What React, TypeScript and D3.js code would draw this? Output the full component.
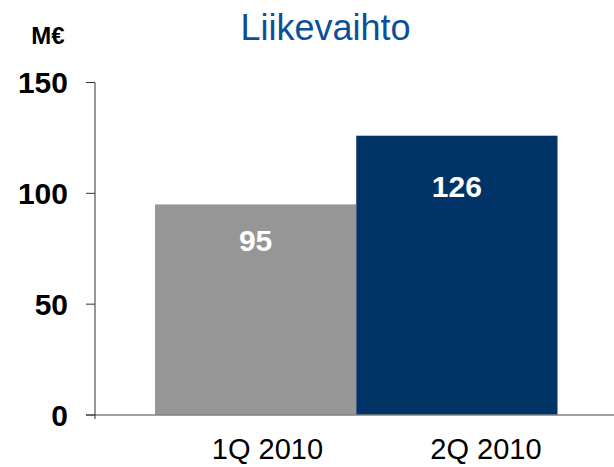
import React from 'react';
import * as d3 from 'd3';

const categories = ['1Q 2010', '2Q 2010'];
const values = [95, 126];
const barColors = ['#969696', '#003366'];
const yTicks = [0, 50, 100, 150];

const W = 614;
const H = 467;
const font = '"Liberation Sans", Arial, sans-serif';

export default function App() {
  const x = d3.scaleBand<string>().domain(categories).range([155, 557.5]).padding(0);
  // category labels sit a bit right of the bars in the original
  const xLabel = d3.scalePoint<string>().domain(categories).range([267.5, 486]);
  const y = d3.scaleLinear().domain([0, 150]).range([415, 82.5]);

  return (
    <div style={{ position: 'absolute', left: 0, top: 0 }}>
      <svg width={W} height={H} style={{ display: 'block', background: '#fff' }}>
        <text x={325.5} y={40} textAnchor="middle" fill="#0b4f9b"
          style={{ fontFamily: font, fontSize: 36 }}>Liikevaihto</text>
        <text x={48} y={44} textAnchor="middle" fill="#000"
          style={{ fontFamily: font, fontSize: 24, fontWeight: 700 }}>M€</text>

        {categories.map((c, i) => (
          <rect key={c} x={x(c)} y={y(values[i])} width={x.bandwidth()}
            height={y(0) - y(values[i])} fill={barColors[i]} />
        ))}

        {/* baseline */}
        <line x1={86} x2={W} y1={y(0)} y2={y(0)} stroke="#808080" strokeWidth={1.5} />
        {/* y axis */}
        <line x1={95} x2={95} y1={y(150)} y2={y(0) + 4} stroke="#333" strokeWidth={1} />
        {yTicks.map(t => (
          <g key={t}>
            <line x1={86} x2={95} y1={y(t)} y2={y(t)} stroke="#333" strokeWidth={1} />
            <text x={68} y={y(t)} dy="0.36em" textAnchor="end" fill="#000"
              style={{ fontFamily: font, fontSize: 30, fontWeight: 700 }}>{t}</text>
          </g>
        ))}

        {categories.map((c, i) => (
          <text key={c} x={x(c)! + x.bandwidth() / 2} y={y(values[i] * 0.78)}
            textAnchor="middle" fill="#fff"
            style={{ fontFamily: font, fontSize: 30, fontWeight: 700 }}>{values[i]}</text>
        ))}

        {categories.map(c => (
          <text key={c} x={xLabel(c)} y={459} textAnchor="middle" fill="#000"
            style={{ fontFamily: font, fontSize: 29 }}>{c}</text>
        ))}
      </svg>
    </div>
  );
}
